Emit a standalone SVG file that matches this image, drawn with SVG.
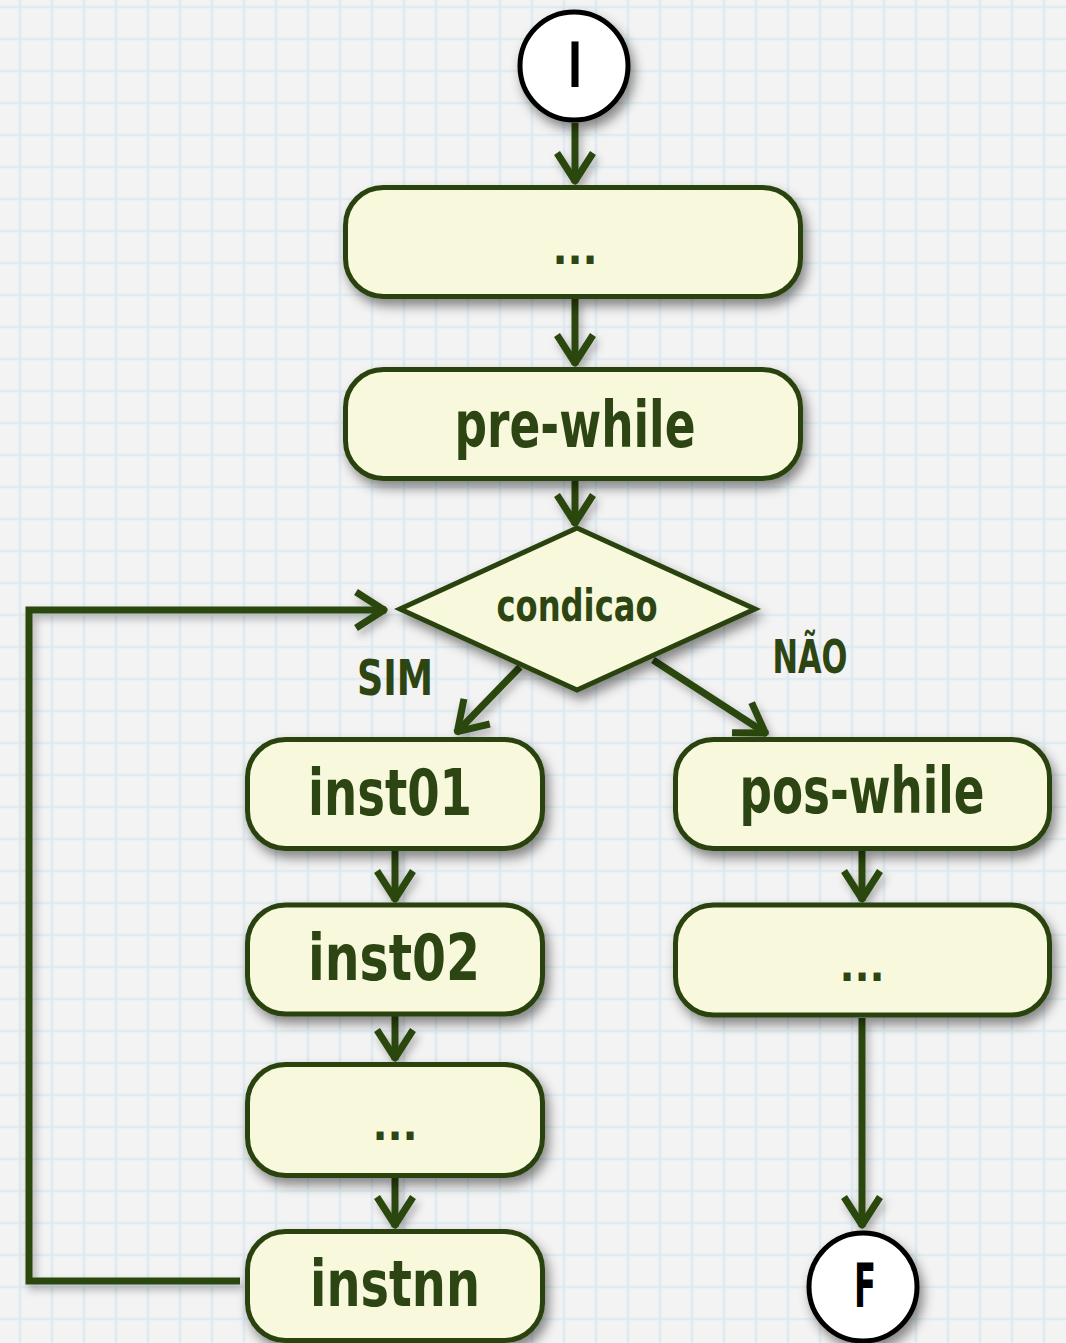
<svg xmlns="http://www.w3.org/2000/svg" width="1066" height="1343" viewBox="0 0 1066 1343">
  <defs>
    <pattern id="grid" x="18.5" y="5.5" width="32" height="32" patternUnits="userSpaceOnUse">
      <path d="M0 1.5H32M1.5 0V32" stroke="#dae9f0" stroke-width="2.2" fill="none"/>
    </pattern>
    <filter id="shadow" x="-20%" y="-20%" width="150%" height="160%">
      <feDropShadow dx="4" dy="7" stdDeviation="6" flood-color="#000" flood-opacity="0.45"/>
    </filter>
    <filter id="lineShadow" x="-10%" y="-10%" width="130%" height="130%">
      <feDropShadow dx="3" dy="5" stdDeviation="4" flood-color="#000" flood-opacity="0.3"/>
    </filter>
    <marker id="arrow" viewBox="-40 -25 50 50" refX="0" refY="0" markerWidth="50" markerHeight="50" markerUnits="userSpaceOnUse" orient="auto">
      <path d="M-30,-18 L-2,0 L-30,18" fill="none" stroke="#2b4710" stroke-width="7" stroke-linejoin="round"/>
    </marker>
  </defs>
  <style>
    .box { fill: #f7f8dc; stroke: #2a430f; stroke-width: 5; filter: url(#shadow); }
    .term { fill: #ffffff; stroke: #000000; stroke-width: 5; filter: url(#shadow); }
    .lbl { font-family: "Liberation Sans Narrow", "DejaVu Sans Condensed", "Liberation Sans", sans-serif; font-weight: bold; fill: #2c4512; text-anchor: middle; }
    .tlbl { font-family: "Liberation Sans Narrow", "DejaVu Sans Condensed", "Liberation Sans", sans-serif; font-weight: bold; fill: #000; text-anchor: middle; }
    .edge { fill: none; stroke: #2b4710; stroke-width: 7; marker-end: url(#arrow); }
  </style>

  <!-- graph paper background -->
  <rect width="1066" height="1343" fill="#f3f3f3"/>
  <rect width="1066" height="1343" fill="url(#grid)"/>

  <!-- connectors -->
  <g id="connectors" filter="url(#lineShadow)">
    <path class="edge" d="M575,123 V183"/>
    <path class="edge" d="M575,298 V365"/>
    <path class="edge" d="M575,481 V525"/>
    <path class="edge" d="M520,667 L456,733"/>
    <path class="edge" d="M653,660 L767,734"/>
    <path class="edge" d="M395,850 V901"/>
    <path class="edge" d="M395,1016 V1060"/>
    <path class="edge" d="M395,1178 V1227"/>
    <path class="edge" d="M240,1281 H29 V610 H386"/>
    <path class="edge" d="M862,850 V901"/>
    <path class="edge" d="M862,1018 V1227"/>
  </g>

  <!-- start terminal -->
  <g id="start">
    <circle class="term" cx="574" cy="66" r="54"/>
    <text class="tlbl" x="575" y="87" font-size="62" textLength="14" lengthAdjust="spacingAndGlyphs">I</text>
  </g>

  <g id="step-dots-top">
    <rect class="box" x="345.5" y="187.5" width="455" height="109" rx="38"/>
    <text class="lbl" x="575" y="264" font-size="44">...</text>
  </g>

  <g id="pre-while">
    <rect class="box" x="345.5" y="369.5" width="455" height="109" rx="38"/>
    <text class="lbl" x="575" y="447" font-size="64" textLength="241" lengthAdjust="spacingAndGlyphs">pre-while</text>
  </g>

  <g id="condicao">
    <polygon class="box" points="577,528 755,609 577,690 400,609"/>
    <text class="lbl" x="577" y="621" font-size="44" textLength="161" lengthAdjust="spacingAndGlyphs">condicao</text>
  </g>

  <!-- branch labels -->
  <g id="branch-labels">
    <text class="lbl" x="395" y="695" font-size="50" textLength="76" lengthAdjust="spacingAndGlyphs">SIM</text>
    <text class="lbl" x="810" y="673" font-size="46" textLength="75" lengthAdjust="spacingAndGlyphs">NÃO</text>
  </g>

  <g id="inst01">
    <rect class="box" x="247.5" y="739.5" width="295" height="109" rx="38"/>
    <text class="lbl" x="390" y="815" font-size="64" textLength="164" lengthAdjust="spacingAndGlyphs">inst01</text>
  </g>

  <g id="inst02">
    <rect class="box" x="247.5" y="905" width="295" height="109" rx="38"/>
    <text class="lbl" x="394" y="980" font-size="64" textLength="172" lengthAdjust="spacingAndGlyphs">inst02</text>
  </g>

  <g id="step-dots-loop">
    <rect class="box" x="247.5" y="1064.5" width="295" height="111" rx="38"/>
    <text class="lbl" x="395" y="1140" font-size="44">...</text>
  </g>

  <g id="instnn">
    <rect class="box" x="247.5" y="1231.5" width="295" height="109" rx="38"/>
    <text class="lbl" x="395" y="1306" font-size="64" textLength="170" lengthAdjust="spacingAndGlyphs">instnn</text>
  </g>

  <g id="pos-while">
    <rect class="box" x="675.5" y="739.5" width="374" height="109" rx="38"/>
    <text class="lbl" x="862" y="813" font-size="64" textLength="245" lengthAdjust="spacingAndGlyphs">pos-while</text>
  </g>

  <g id="step-dots-after">
    <rect class="box" x="675.5" y="905" width="374" height="110" rx="38"/>
    <text class="lbl" x="862" y="981" font-size="44">...</text>
  </g>

  <!-- end terminal -->
  <g id="end">
    <circle class="term" cx="863" cy="1287" r="54"/>
    <text class="tlbl" x="865" y="1307" font-size="60" textLength="22" lengthAdjust="spacingAndGlyphs">F</text>
  </g>
</svg>
